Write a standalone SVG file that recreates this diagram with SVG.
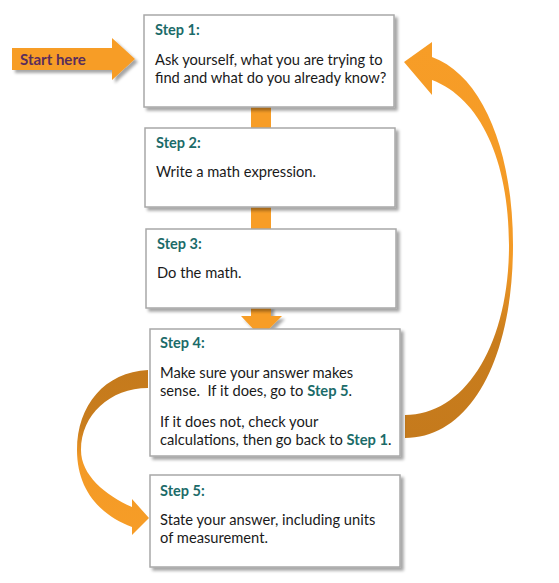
<svg xmlns="http://www.w3.org/2000/svg" width="559" height="583" viewBox="0 0 559 583">
<defs>
<filter id="sh" x="-10%" y="-10%" width="130%" height="130%">
<feDropShadow dx="3" dy="3" stdDeviation="1.5" flood-color="#000" flood-opacity="0.35"/>
</filter>
<linearGradient id="gr" x1="0" y1="0" x2="0" y2="1" gradientUnits="objectBoundingBox">
<stop offset="0" stop-color="#F79D27"/>
<stop offset="0.55" stop-color="#F39A26"/>
<stop offset="0.75" stop-color="#C97D1D"/>
<stop offset="1" stop-color="#C57A1C"/>
</linearGradient>
<linearGradient id="gl" x1="0" y1="0" x2="0" y2="1" gradientUnits="objectBoundingBox">
<stop offset="0" stop-color="#C57A1C"/>
<stop offset="0.35" stop-color="#C97D1D"/>
<stop offset="0.55" stop-color="#F39A26"/>
<stop offset="1" stop-color="#F79D27"/>
</linearGradient>
</defs>
<style>
.box{fill:#fff;stroke:#A8A8A8;stroke-width:1.5;filter:url(#sh)}
.or{fill:#F79D27}
.lbl{font-family:Lato,"Open Sans",sans-serif;font-weight:bold;font-size:14.5px;fill:#1B6B69}
.txt{font-family:Lato,"Open Sans",sans-serif;font-size:14.7px;fill:#1a1a1a;white-space:pre}
.b{font-weight:bold;fill:#1B6B69}
.start{font-family:Lato,"Open Sans",sans-serif;font-weight:bold;font-size:15px;fill:#5A2D5C}
</style>
<g id="connectors">
<rect class="or" x="251" y="105" width="20" height="25"/>
<rect class="or" x="251" y="205" width="20" height="26"/>
<path class="or" d="M251,306 H271 V316 H282 L261,337 L241,316 H251 Z" filter="url(#sh)"/>
<path fill="url(#gr)" d="M405,438 C470,438 513,360 513,245 C513,150 482,75 432,57 L432,42 L404,62 L432,95 L432,80 C480,98 509,160 509,245 C509,345 465,415 405,415 Z"/>
<path fill="url(#gl)" d="M148,370 C105,372 77,405 77,450 C77,490 100,515 132,527 L132,535 L149,518 L132,499 L132,507 C105,495 81,475 81,450 C81,415 110,388 148,388 Z"/>
</g>
<g id="start">
<path class="or" d="M12,48 H112 V38 L135,59 L112,80 V70 H12 Z" filter="url(#sh)"/>
<text class="start" x="20" y="65">Start here</text>
</g>
<g id="step1">
<rect class="box" x="144" y="15" width="250" height="92"/>
<text class="lbl" x="155" y="35">Step 1:</text>
<text class="txt" x="155" y="65">Ask yourself, what you are trying to</text>
<text class="txt" x="155" y="83">find and what do you already know?</text>
</g>
<g id="step2">
<rect class="box" x="145" y="128" width="250" height="79"/>
<text class="lbl" x="156" y="148">Step 2:</text>
<text class="txt" x="156" y="177">Write a math expression.</text>
</g>
<g id="step3">
<rect class="box" x="146" y="229" width="250" height="79"/>
<text class="lbl" x="157" y="249">Step 3:</text>
<text class="txt" x="157" y="278">Do the math.</text>
</g>
<g id="step4">
<rect class="box" x="150" y="329" width="250" height="127"/>
<text class="lbl" x="160" y="348">Step 4:</text>
<text class="txt" x="160" y="378">Make sure your answer makes</text>
<text class="txt" x="160" y="396">sense.  If it does, go to <tspan class="b">Step 5</tspan>.</text>
<text class="txt" x="160" y="427">If it does not, check your</text>
<text class="txt" x="160" y="445">calculations, then go back to <tspan class="b">Step 1</tspan>.</text>
</g>
<g id="step5">
<rect class="box" x="150" y="475" width="250" height="92"/>
<text class="lbl" x="160" y="496">Step 5:</text>
<text class="txt" x="160" y="525">State your answer, including units</text>
<text class="txt" x="160" y="543">of measurement.</text>
</g>
</svg>
